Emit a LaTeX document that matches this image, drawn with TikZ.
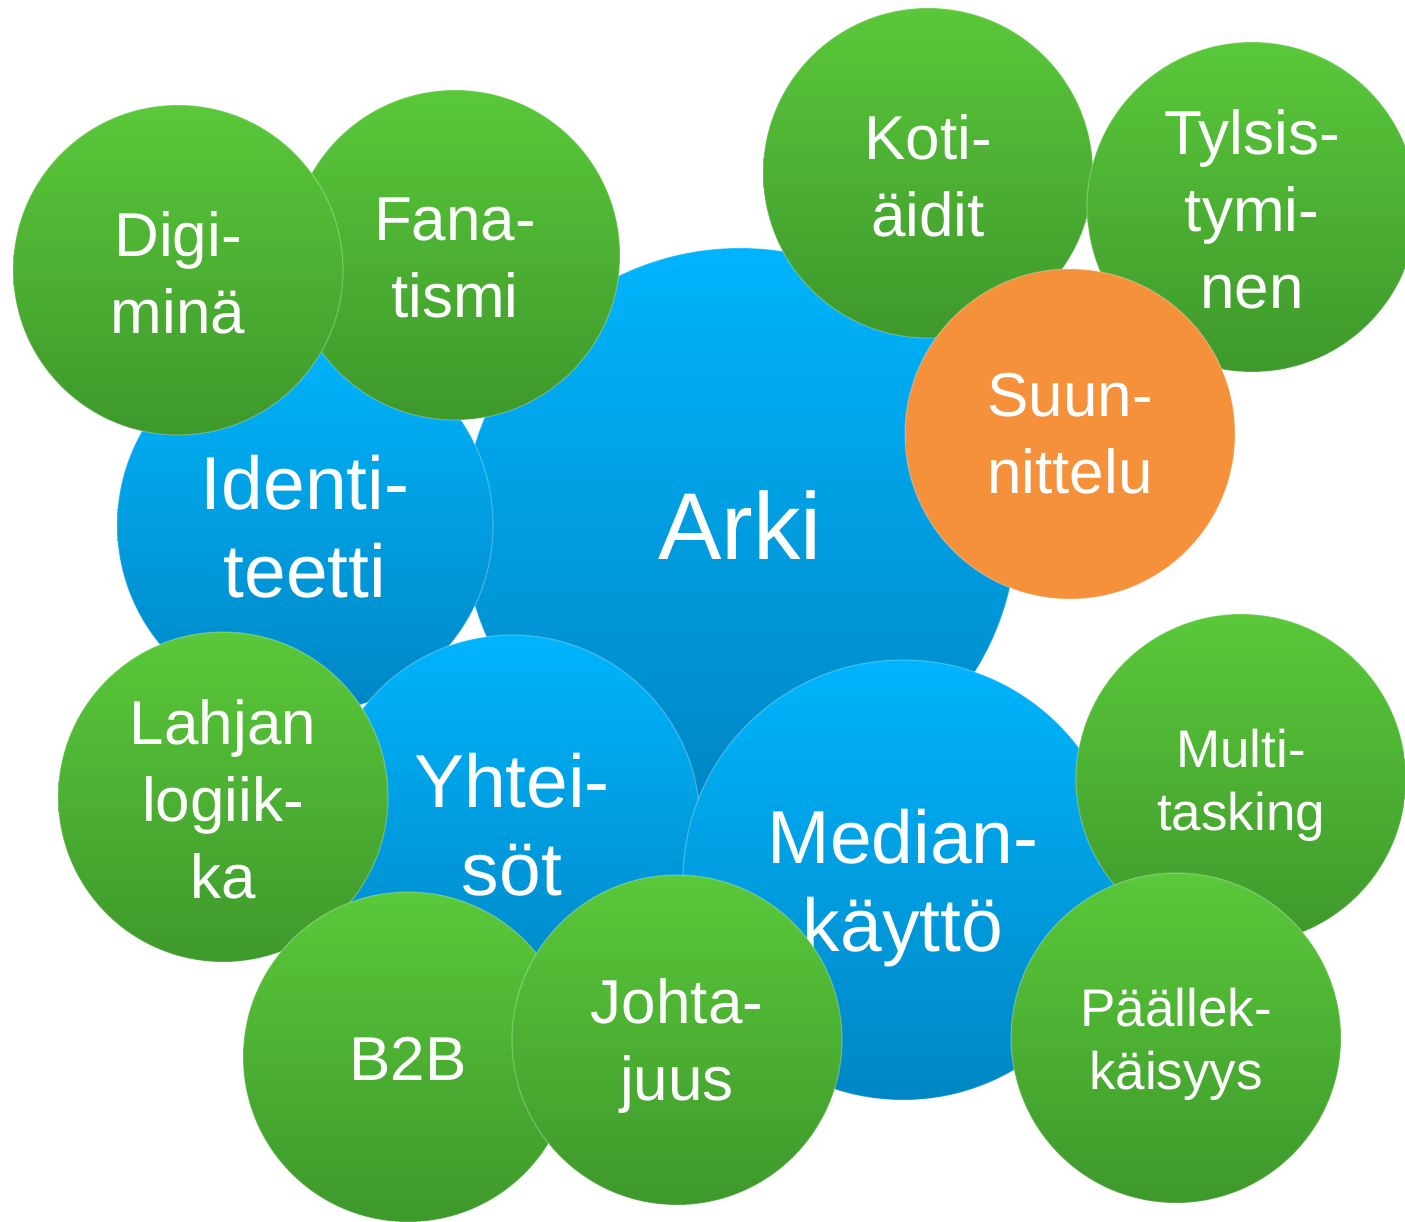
\documentclass[tikz,border=0pt]{standalone}
\usepackage{fontspec}
\setmainfont{Liberation Sans}
\definecolor{btop}{HTML}{00B4FC}
\definecolor{bbot}{HTML}{0086C4}
\definecolor{gtop}{HTML}{5AC83A}
\definecolor{gbot}{HTML}{3E982B}
\definecolor{orng}{HTML}{F5913A}
\tikzset{
  bub/.style={circle, inner sep=0pt, outer sep=0pt,
              draw=white, draw opacity=0.25, line width=1.2pt},
  bluebub/.style={bub, top color=btop, bottom color=bbot, minimum size=#1},
  greenbub/.style={bub, top color=gtop, bottom color=gbot, minimum size=330pt},
  orangebub/.style={bub, fill=orng, minimum size=330pt},
  txt/.style={text=white, align=center, inner sep=0pt},
  bigtext/.style={txt, font=\fontsize{95pt}{110pt}\selectfont},
  bluetext/.style={txt, font=\fontsize{75pt}{88pt}\selectfont},
  greentext/.style={txt, font=\fontsize{62pt}{77pt}\selectfont},
  smalltext/.style={txt, font=\fontsize{53pt}{63pt}\selectfont}
}
\begin{document}
\begin{tikzpicture}[x=1pt, y=-1pt]
\useasboundingbox (0,0) rectangle (1405,1221);
% blue bubbles
\node[bluebub=554pt, label={[bigtext]center:Arki}] (arki) at (740,525) {};
\node[bluebub=376pt, label={[bluetext, yshift=-2pt]center:{Identi-\\teetti}}] (ident) at (305,525) {};
\node[bluebub=376pt, label={[bluetext, yshift=-2pt]center:{Yhtei-\\söt}}] (yht) at (512,823) {};
\node[bluebub=440pt, label={[bluetext, yshift=-8pt]center:{Median-\\käyttö}}] (media) at (903,880) {};
% green bubbles
\node[greenbub, label={[greentext, yshift=-3pt]center:{Fana-\\tismi}}] (fana) at (455,255) {};
\node[greenbub, label={[greentext, yshift=-3pt]center:{Digi-\\minä}}] (digi) at (178,270) {};
\node[greenbub, label={[greentext, yshift=-3pt]center:{Koti-\\äidit}}] (koti) at (928,173) {};
\node[greenbub, label={[greentext, yshift=-2pt]center:{Tylsis-\\tymi-\\nen}}] (tyls) at (1252,207) {};
\node[orangebub, label={[greentext]center:{Suun-\\nittelu}}] (suun) at (1070,434) {};
\node[greenbub, label={[greentext, yshift=-2pt]center:{Lahjan\\logiik-\\ka}}] (lahja) at (223,797) {};
\node[greenbub, label={[greentext, yshift=-2pt]center:B2B}] (b2b) at (408,1057) {};
\node[greenbub, label={[greentext, yshift=-6pt]center:{Johta-\\juus}}] (johta) at (677,1040) {};
\node[greenbub, label={[smalltext, yshift=-6pt]center:{Multi-\\tasking}}] (multi) at (1241,779) {};
\node[greenbub, label={[smalltext, yshift=-6pt]center:{Päällek-\\käisyys}}] (paal) at (1176,1038) {};
\end{tikzpicture}
\end{document}
